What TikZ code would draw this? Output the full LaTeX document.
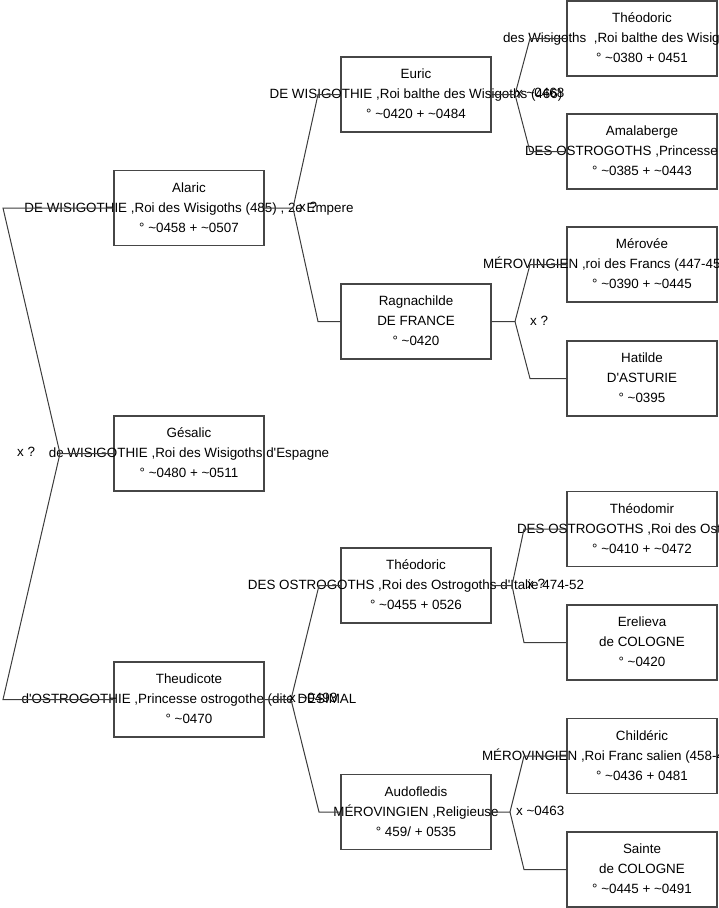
\documentclass[tikz,border=0pt]{standalone}
\usepackage{fontspec}
\setmainfont{Liberation Sans}[Ligatures=TeXOff]
\definecolor{boxline}{RGB}{70,70,70}
\definecolor{linkline}{RGB}{60,60,60}
\newcommand{\genfont}{\fontsize{13.4}{20}\selectfont}
\newcommand{\tld}{\textasciitilde}
\newcommand{\cardtext}[1]{\makebox[0pt]{\begin{tabular}{@{}c@{}}#1\end{tabular}}}
\newcommand{\cutline}[2]{\makebox[0pt][l]{\hspace*{#1}#2}}
\tikzset{
  genbox/.style = {rectangle, draw=boxline, line width=1.1pt, minimum width=150pt,
                   minimum height=75pt, inner sep=0pt, font=\genfont},
  genlabel/.style = {anchor=west, inner sep=0pt, font=\genfont},
  genlink/.style = {draw=linkline, line width=1pt}
}

\begin{document}
\begin{tikzpicture}[x=1pt, y=-1pt]
\useasboundingbox (0,0) rectangle (719,908);

\node[genbox] (theodoricI) at (642,38.5) {\cardtext{Théodoric\\\cutline{-139pt}{des Wisigoths\ \ ,Roi balthe des Wisigoths}\\° \tld 0380 + 0451}};
\node[genbox] (amalaberge) at (642,151.5) {\cardtext{Amalaberge\\\cutline{-117pt}{DES OSTROGOTHS ,Princesse}\\° \tld 0385 + \tld 0443}};
\node[genbox] (euric) at (416,94.5) {\cardtext{Euric\\DE WISIGOTHIE ,Roi balthe des Wisigoths (466)\\° \tld 0420 + \tld 0484}};
\node[genbox] (alaric) at (189,208) {\cardtext{Alaric\\DE WISIGOTHIE ,Roi des Wisigoths (485) , 2e Empere\\° \tld 0458 + \tld 0507}};
\node[genbox] (ragnachilde) at (416,321.5) {\cardtext{Ragnachilde\\DE FRANCE\\° \tld 0420}};
\node[genbox] (merovee) at (642,264.5) {\cardtext{Mérovée\\\cutline{-159pt}{MÉROVINGIEN ,roi des Francs (447-45}\\° \tld 0390 + \tld 0445}};
\node[genbox] (hatilde) at (642,378.5) {\cardtext{Hatilde\\D'ASTURIE\\° \tld 0395}};
\node[genbox] (gesalic) at (189,453.5) {\cardtext{Gésalic\\de WISIGOTHIE ,Roi des Wisigoths d'Espagne\\° \tld 0480 + \tld 0511}};
\node[genbox] (theodomir) at (642,529) {\cardtext{Théodomir\\\cutline{-125pt}{DES OSTROGOTHS ,Roi des Ost}\\° \tld 0410 + \tld 0472}};
\node[genbox] (theodoric) at (416,585.5) {\cardtext{Théodoric\\DES OSTROGOTHS ,Roi des Ostrogoths d'Italie 474-52\\° \tld 0455 + 0526}};
\node[genbox] (erelieva) at (642,642.5) {\cardtext{Erelieva\\de COLOGNE\\° \tld 0420}};
\node[genbox] (theudicote) at (189,699.5) {\cardtext{Theudicote\\d'OSTROGOTHIE ,Princesse ostrogothe (dite DESIMAL\\° \tld 0470}};
\node[genbox] (childeric) at (642,756) {\cardtext{Childéric\\\cutline{-160pt}{MÉROVINGIEN ,Roi Franc salien (458-4}\\° \tld 0436 + 0481}};
\node[genbox] (audofledis) at (416,812) {\cardtext{Audofledis\\MÉROVINGIEN ,Religieuse\\° 459/ + 0535}};
\node[genbox] (sainte) at (642,869.5) {\cardtext{Sainte\\de COLOGNE\\° \tld 0445 + \tld 0491}};

\coordinate (jg) at (60,453.5);  \coordinate (kg) at (3,453.5);
\coordinate (ja) at (293,208);   \coordinate (ka) at (318,208);
\coordinate (je) at (515,94.5);  \coordinate (ke) at (530,94.5);
\coordinate (jr) at (515,321.5); \coordinate (kr) at (530,321.5);
\coordinate (jt) at (291,699.5); \coordinate (kt) at (319,699.5);
\coordinate (jo) at (512,585.5); \coordinate (ko) at (524,585.5);
\coordinate (jd) at (510,812);   \coordinate (kd) at (524,812);

\draw[genlink] (gesalic.west) -- (jg) -- (kg |- alaric.west) -- (alaric.west);
\draw[genlink] (jg) -- (kg |- theudicote.west) -- (theudicote.west);
\draw[genlink] (alaric.east) -- (ja) -- (ka |- euric.west) -- (euric.west);
\draw[genlink] (ja) -- (ka |- ragnachilde.west) -- (ragnachilde.west);
\draw[genlink] (euric.east) -- (je) -- (ke |- theodoricI.west) -- (theodoricI.west);
\draw[genlink] (je) -- (ke |- amalaberge.west) -- (amalaberge.west);
\draw[genlink] (ragnachilde.east) -- (jr) -- (kr |- merovee.west) -- (merovee.west);
\draw[genlink] (jr) -- (kr |- hatilde.west) -- (hatilde.west);
\draw[genlink] (theudicote.east) -- (jt) -- (kt |- theodoric.west) -- (theodoric.west);
\draw[genlink] (jt) -- (kt |- audofledis.west) -- (audofledis.west);
\draw[genlink] (theodoric.east) -- (jo) -- (ko |- theodomir.west) -- (theodomir.west);
\draw[genlink] (jo) -- (ko |- erelieva.west) -- (erelieva.west);
\draw[genlink] (audofledis.east) -- (jd) -- (kd |- childeric.west) -- (childeric.west);
\draw[genlink] (jd) -- (kd |- sainte.west) -- (sainte.west);

\node[genlabel] (xg) at (17,452) {x ?};
\node[genlabel] (xa) at (299,207) {x ?};
\node[genlabel] (xe) at (516,93) {x \tld 0468};
\node[genlabel] (xr) at (530,320.5) {x ?};
\node[genlabel] (xt) at (289,698) {x \tld 0493};
\node[genlabel] (xo) at (527,584) {x ?};
\node[genlabel] (xd) at (516,811) {x \tld 0463};
\end{tikzpicture}
\end{document}
